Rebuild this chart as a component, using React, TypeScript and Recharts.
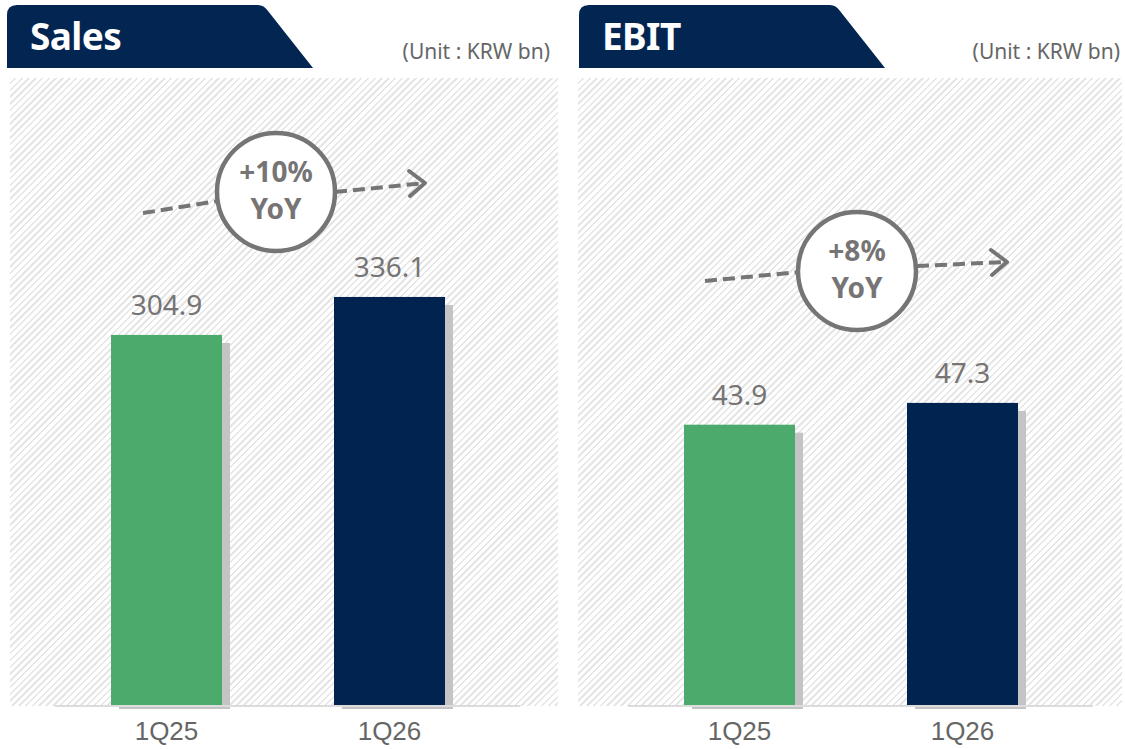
import { Bar, BarChart, Cell, LabelList, XAxis, YAxis } from "recharts";

const categories = ["1Q25", "1Q26"];
const salesValues = [304.9, 336.1];
const ebitValues = [43.9, 47.3];
const barColors = ["#4caa6c", "#002350"];
const yoyLabels = ["+10%", "+8%"];

const FONT = "'Noto Sans', 'Liberation Sans', sans-serif";
const TICK_FONT = "'Liberation Sans', Arial, sans-serif";
const NAVY = "#022552";
const GRAY = "#767474";

function ShadowBar(props: any) {
  const { x, y, width, height, fill } = props;
  if (height <= 0) return null;
  return (
    <g>
      <rect x={x + 8} y={y + 8} width={width} height={height - 5} fill="#c4c4c4" />
      <rect x={x} y={y} width={width} height={height} fill={fill} />
    </g>
  );
}

type YoyMark = { cx: number; cy: number; l1: number[]; r1: number[]; tip: number[] };

function Panel({
  left,
  title,
  values,
  domainMax,
  yoy,
  mark,
  bgX,
  bgW,
  headX,
  unitX,
}: {
  left: number;
  title: string;
  values: number[];
  domainMax: number;
  yoy: string;
  mark: YoyMark;
  bgX: number;
  bgW: number;
  headX: number;
  unitX: number;
}) {
  const rows = categories.map((c, i) => ({ name: c, value: values[i] }));
  const r = 59;
  const { cx, cy, l1, r1, tip } = mark;
  const h = headX;
  return (
    <div style={{ position: "absolute", left, top: 0, width: 552, height: 749 }}>
      <div
        style={{
          position: "absolute",
          left: bgX,
          top: 78,
          width: bgW,
          height: 628,
          background:
            "repeating-linear-gradient(135deg, #ffffff 0px, #ffffff 3px, #e6e6e6 3px, #e6e6e6 4.8px)",
        }}
      />
      <div style={{ position: "absolute", left: 0, top: 0 }}>
        <BarChart
          width={552}
          height={749}
          data={rows}
          margin={{ top: 78, right: 32, left: 55, bottom: 3 }}
        >
          <XAxis
            dataKey="name"
            height={40}
            padding={{ left: 0, right: 19 }}
            tickLine={false}
            tickMargin={10}
            axisLine={{ stroke: "#dcdcdc", strokeWidth: 2 }}
            tick={{ fill: "#666", fontSize: 26, fontFamily: TICK_FONT }}
          />
          <YAxis hide domain={[0, domainMax]} />
          <Bar dataKey="value" barSize={111} isAnimationActive={false} shape={<ShadowBar />}>
            {rows.map((row, i) => (
              <Cell key={row.name} fill={barColors[i]} />
            ))}
            <LabelList
              dataKey="value"
              position="top"
              offset={20}
              fill={GRAY}
              fontSize={28}
              fontFamily={FONT}
            />
          </Bar>
        </BarChart>
      </div>
      <svg
        width={552}
        height={749}
        style={{ position: "absolute", left: 0, top: 0, pointerEvents: "none" }}
      >
        <path
          d={`M${h},68 L${h},15 Q${h},5 ${h + 10},5 L${h + 251},5 Q${h + 257},5 ${h + 261},11 L${h + 306},68 Z`}
          fill={NAVY}
        />
        <text
          x={h + 23}
          y={50}
          fill="#fff"
          fontSize={37}
          fontWeight="bold"
          fontFamily={FONT}
          letterSpacing={-0.6}
        >
          {title}
        </text>
        <text x={unitX} y={59} fill="#666" fontSize={21} fontFamily={FONT} textAnchor="end">
          (Unit : KRW bn)
        </text>
        <g stroke={GRAY} strokeWidth={4} fill="none">
          <line x1={l1[0]} y1={l1[1]} x2={l1[2]} y2={l1[3]} strokeDasharray="12 6" />
          <line x1={r1[0]} y1={r1[1]} x2={tip[0]} y2={tip[1]} strokeDasharray="12 6" />
          <polyline
            points={`${tip[0] - 16},${tip[1] - 12} ${tip[0]},${tip[1]} ${tip[0] - 15},${tip[1] + 13}`}
            strokeLinecap="round"
            strokeLinejoin="round"
          />
        </g>
        <circle cx={cx} cy={cy} r={r} fill="#fff" stroke={GRAY} strokeWidth={4.5} />
        <text
          x={cx}
          y={cy - 10}
          fill={GRAY}
          fontSize={28}
          fontWeight="bold"
          fontFamily={FONT}
          textAnchor="middle"
        >
          {yoy}
        </text>
        <text
          x={cx}
          y={cy + 27}
          fill={GRAY}
          fontSize={28}
          fontWeight="bold"
          fontFamily={FONT}
          textAnchor="middle"
        >
          YoY
        </text>
      </svg>
    </div>
  );
}

export default function App() {
  return (
    <div
      style={{
        position: "absolute",
        left: 0,
        top: 0,
        width: 1125,
        height: 749,
        background: "#fff",
        overflow: "hidden",
      }}
    >
      <Panel
        left={0}
        title="Sales"
        values={salesValues}
        domainMax={516}
        yoy={yoyLabels[0]}
        mark={{ cx: 276, cy: 192, l1: [143, 213, 218, 201], r1: [335, 192], tip: [425, 183] }}
        bgX={10}
        bgW={548}
        headX={7}
        unitX={550}
      />
      <Panel
        left={573}
        title="EBIT"
        values={ebitValues}
        domainMax={98}
        yoy={yoyLabels[1]}
        mark={{ cx: 284, cy: 271, l1: [132, 281, 226, 272], r1: [344, 266], tip: [434, 262] }}
        bgX={5}
        bgW={544}
        headX={6}
        unitX={547}
      />
    </div>
  );
}
